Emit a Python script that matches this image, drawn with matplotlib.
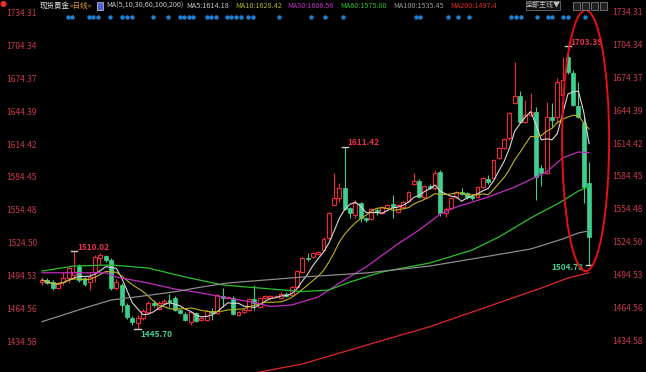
import numpy as np
import pandas as pd
import matplotlib
matplotlib.use('Agg')
import matplotlib.pyplot as plt
from matplotlib.patches import Ellipse, Rectangle

plt.rcParams['font.family'] = ['Liberation Sans Narrow', 'Noto Sans CJK SC', 'DejaVu Sans']

# daily OHLC (spot gold)
opens = [1488.9, 1490.7, 1488.9, 1483.4, 1488.9, 1492.5, 1495.3, 1503.4, 1492.5, 1488.9,
         1498.0, 1510.7, 1512.5, 1508.9, 1483.4, 1486.2, 1468.0, 1456.1, 1451.6, 1456.1,
         1461.6, 1469.8, 1464.3, 1469.8, 1472.5, 1474.3, 1463.4, 1459.8, 1452.5, 1460.7,
         1454.3, 1454.3, 1462.5, 1460.7, 1476.2, 1474.3, 1474.3, 1458.9, 1461.6, 1463.4,
         1473.4, 1466.1, 1474.3, 1474.3, 1476.2, 1474.3, 1478.0, 1477.1, 1484.3, 1498.0,
         1511.0, 1511.6, 1514.4, 1518.0, 1528.9, 1559.0, 1565.3, 1574.4, 1556.2, 1549.9,
         1560.8, 1547.1, 1546.2, 1554.4, 1551.7, 1556.2, 1559.9, 1552.6, 1557.2, 1562.6,
         1578.1, 1580.8, 1566.2, 1576.2, 1574.4, 1589.0, 1551.7, 1556.2, 1566.2, 1570.8,
         1569.9, 1567.1, 1566.2, 1575.3, 1582.6, 1583.5, 1601.7, 1610.8, 1619.9, 1651.8,
         1658.1, 1634.5, 1640.9, 1643.6, 1592.6, 1588.1, 1639.0, 1639.0, 1659.0, 1693.6,
         1679.1, 1649.0, 1633.6, 1579.0]
highs = [1493.4, 1492.5, 1490.7, 1488.9, 1498.0, 1502.5, 1517.0, 1505.3, 1493.4, 1498.0,
         1513.5, 1515.3, 1513.5, 1510.7, 1491.6, 1488.0, 1469.8, 1457.9, 1458.9, 1464.3,
         1471.6, 1472.5, 1471.6, 1473.4, 1478.0, 1476.2, 1464.3, 1461.6, 1462.5, 1461.6,
         1457.0, 1463.4, 1465.2, 1478.0, 1483.4, 1476.2, 1476.2, 1462.5, 1464.3, 1474.3,
         1486.2, 1475.2, 1477.1, 1477.1, 1477.1, 1479.8, 1479.8, 1485.3, 1499.8, 1511.6,
         1515.3, 1516.2, 1517.1, 1529.8, 1552.6, 1588.1, 1578.9, 1611.42, 1557.2, 1563.5,
         1561.7, 1548.0, 1556.2, 1556.2, 1558.1, 1559.9, 1568.1, 1559.9, 1562.6, 1571.7,
         1588.1, 1582.6, 1577.1, 1578.1, 1590.8, 1590.8, 1557.2, 1566.2, 1571.7, 1574.4,
         1570.8, 1568.1, 1576.2, 1584.4, 1586.2, 1600.8, 1611.7, 1619.9, 1643.6, 1689.1,
         1662.6, 1654.5, 1660.9, 1648.1, 1595.3, 1652.7, 1651.8, 1674.5, 1693.6, 1703.39,
         1681.8, 1670.9, 1639.0, 1598.1]
lows = [1486.2, 1487.1, 1481.6, 1482.5, 1486.2, 1487.9, 1492.5, 1488.9, 1485.3, 1481.6,
        1488.9, 1504.4, 1507.1, 1481.6, 1481.6, 1461.6, 1455.2, 1449.8, 1445.7, 1454.3,
        1460.7, 1466.1, 1463.4, 1468.0, 1466.1, 1462.5, 1459.8, 1453.4, 1449.8, 1452.5,
        1453.4, 1453.4, 1454.3, 1459.8, 1466.1, 1473.4, 1458.9, 1457.9, 1460.7, 1462.5,
        1463.4, 1465.2, 1473.4, 1472.5, 1475.2, 1473.4, 1475.2, 1476.2, 1483.4, 1497.1,
        1508.0, 1510.7, 1513.5, 1517.1, 1528.0, 1559.0, 1561.7, 1554.4, 1547.1, 1547.1,
        1543.5, 1543.5, 1545.3, 1549.9, 1550.8, 1555.3, 1547.1, 1551.7, 1556.2, 1561.7,
        1577.1, 1565.3, 1565.3, 1573.5, 1572.6, 1549.0, 1548.0, 1555.3, 1565.3, 1568.1,
        1564.4, 1563.5, 1565.3, 1574.4, 1578.1, 1582.6, 1600.8, 1609.9, 1618.1, 1650.9,
        1633.6, 1633.6, 1640.0, 1563.5, 1576.2, 1587.1, 1629.9, 1633.6, 1654.5, 1678.1,
        1649.0, 1638.1, 1560.8, 1504.78]
closes = [1490.7, 1488.0, 1483.4, 1487.1, 1492.5, 1501.6, 1498.0, 1490.7, 1487.1, 1493.4,
          1511.6, 1513.5, 1508.9, 1483.4, 1488.9, 1468.0, 1457.0, 1452.5, 1456.1, 1462.5,
          1469.8, 1468.0, 1469.8, 1471.6, 1470.7, 1463.4, 1460.7, 1454.3, 1461.6, 1453.4,
          1456.1, 1462.5, 1460.7, 1477.1, 1474.3, 1475.2, 1459.8, 1461.6, 1463.4, 1473.4,
          1469.8, 1474.3, 1476.2, 1476.2, 1476.2, 1478.0, 1476.2, 1484.3, 1498.9, 1510.7,
          1509.8, 1515.3, 1516.2, 1528.0, 1551.7, 1565.3, 1574.4, 1555.3, 1551.7, 1560.8,
          1547.1, 1545.3, 1555.3, 1552.6, 1557.2, 1559.0, 1557.2, 1559.0, 1561.7, 1570.8,
          1580.8, 1566.2, 1576.2, 1574.4, 1588.1, 1551.7, 1555.3, 1565.3, 1570.8, 1569.0,
          1566.2, 1565.3, 1575.3, 1583.5, 1579.9, 1599.9, 1610.8, 1619.0, 1642.7, 1658.1,
          1634.5, 1640.9, 1643.6, 1584.4, 1588.1, 1639.0, 1636.3, 1670.9, 1672.7, 1680.0,
          1650.0, 1639.0, 1575.3, 1529.8]

# long moving averages, read at sample bars
ma30_idx = [0, 12, 14, 20, 25, 30, 35, 40, 43, 47, 52, 56, 61, 67, 71, 75, 78, 84, 89, 95, 98, 101, 103]
ma30_val = [1497.3, 1497.3, 1493.4, 1488.0, 1482.5, 1478.9, 1474.3, 1470.2, 1466.6, 1468.0, 1475.2,
            1488.0, 1502.5, 1523.5, 1536.2, 1550.8, 1557.1, 1566.2, 1575.3, 1589.0, 1601.7, 1607.2, 1606.56]
ma60_idx = [0, 6, 13, 20, 27, 34, 41, 49, 54, 58, 64, 73, 81, 86, 92, 98, 101, 103]
ma60_val = [1498.9, 1503.4, 1504.4, 1501.6, 1493.4, 1486.2, 1483.4, 1480.2, 1481.6, 1488.9,
            1498.0, 1506.2, 1518.0, 1529.8, 1547.1, 1562.6, 1571.7, 1575.8]
ma100_idx = [0, 8, 13, 18, 25, 30, 35, 49, 61, 73, 82, 92, 98, 101, 103]
ma100_val = [1452.8, 1465.2, 1472.5, 1475.5, 1480.0, 1484.3, 1488.0, 1493.4, 1497.1, 1503.4,
             1510.7, 1518.9, 1528.0, 1533.5, 1535.45]
ma200_idx = [40, 49, 65, 73, 94, 99, 103]
ma200_val = [1406.1, 1414.3, 1437.0, 1448.2, 1483.4, 1492.5, 1497.4]

# event markers along the top
dot_pos = [4.9, 5.7, 8.9, 9.6, 10.6, 12.8, 15.1, 16.0, 17.0, 20.9, 23.7, 26.0, 26.7, 27.7, 28.4,
           31.1, 31.8, 32.8, 34.8, 35.6, 36.5, 37.5, 38.8, 39.7, 44.6, 50.7, 53.3, 56.7, 70.4,
           71.2, 76.5, 78.3, 80.4, 88.3, 89.3, 90.2, 93.2, 95.3, 96.1, 98.1, 99.1, 102.3]

yticks = [1434.58, 1464.56, 1494.53, 1524.50, 1554.48, 1584.45, 1614.42, 1644.39, 1674.37, 1704.34, 1734.31]

# (bar, price, text, colour, dx, dy, ha)
marks = [(6, 1517.0, '1510.02', '#e8324a', 3, 4, 'left'),
         (57, 1611.42, '1611.42', '#e8324a', 3, 5, 'left'),
         (99, 1703.39, '1703.39', '#e8324a', 3, 4, 'left'),
         (18, 1445.7, '1445.70', '#3fd08e', 3, -5, 'left'),
         (103, 1504.78, '1504.78', '#3fd08e', -6, -3, 'right')]

W, H = 646, 372
RED = '#f0283c'
GREEN = '#3fcf8e'
LBL = '#c83a48'

fig = plt.figure(figsize=(W / 100, H / 100), dpi=100, facecolor='black')
ax = fig.add_axes([40 / W, 0, 565 / W, 1], facecolor='black')
ax.set_xlim(-0.38, 106.0)
ax.set_ylim(1407.0, 1745.5)

# candles
bw = 0.74
for i, (o, h, l, c) in enumerate(zip(opens, highs, lows, closes)):
    if c >= o:
        ax.vlines(i, l, o, color=RED, lw=0.8)
        ax.vlines(i, c, h, color=RED, lw=0.8)
        ax.add_patch(Rectangle((i - bw / 2, o), bw, max(c - o, 0.3), facecolor='black',
                               edgecolor=RED, lw=0.8, zorder=3))
    else:
        ax.vlines(i, l, h, color=GREEN, lw=0.8)
        ax.add_patch(Rectangle((i - bw / 2, c), bw, o - c, facecolor=GREEN,
                               edgecolor=GREEN, lw=0.5, zorder=3))

# moving averages
c = pd.Series(closes)
x = np.arange(len(closes))
ax.plot(x, c.rolling(5, min_periods=1).mean(), color='#d8d8d8', lw=0.8, zorder=4)
ax.plot(x, c.rolling(10, min_periods=1).mean(), color='#c0b41c', lw=0.8, zorder=4)
ax.plot(ma30_idx, ma30_val, color='#c02cc0', lw=0.9, zorder=4)
ax.plot(ma60_idx, ma60_val, color='#2cc02c', lw=0.9, zorder=4)
ax.plot(ma100_idx, ma100_val, color='#8c8c8c', lw=0.9, zorder=4)
ax.plot(ma200_idx, ma200_val, color='#e02828', lw=0.9, zorder=4)

# high / low labels
for i, v, s, col, dx, dy, ha in marks:
    ax.plot([i - 0.6, i + 0.6], [v, v], color='#d0d0d0', lw=1, zorder=5)
    ax.annotate(s, xy=(i, v), xytext=(dx, dy), textcoords='offset pixels', ha=ha, va='center',
                color=col, fontsize=6, fontweight='bold', zorder=6)

# event dots
ax.plot(dot_pos, [1730.0] * len(dot_pos), 'o', color='#1f7fd0', ms=3.2, mec='none', zorder=5)

# red ellipse round the last bars
ax.add_patch(Ellipse((102.35, 1617.6), 8.85, 237.5, fill=False, edgecolor='#e81010',
                     lw=1.4, clip_on=False, zorder=7))

# axes styling
for sp in ax.spines.values():
    sp.set_visible(False)
ax.set_xticks([])
ax.set_yticks(yticks)
ax.set_yticklabels(['%.2f' % v for v in yticks])
ax.tick_params(axis='y', length=0, pad=2.2, labelsize=6, labelcolor=LBL)
for v in yticks:
    ax.text(1 + 7 / 565, v, '%.2f' % v, transform=ax.get_yaxis_transform(), ha='left',
            va='center', fontsize=6, color=LBL)

# header line
ty = 1 - 6 / H
fig.text(40 / W, ty, '现货黄金', color='#e6e6e6', fontsize=5.4, va='center')
fig.text(70 / W, ty, '«日线»', color='#e8a030', fontsize=5.4, va='center')
fig.patches.append(Rectangle((97 / W, 1 - 10 / H), 6 / W, 8 / H, transform=fig.transFigure,
                             facecolor='#5060d0', edgecolor='#d0d0d0', lw=0.5))
header = [(106, 'MA(5,10,30,60,100,200)', '#c8c8c8'),
          (186, 'MA5:1614.18', '#c8c8c8'),
          (235, 'MA10:1628.42', '#b4b41e'),
          (287, 'MA30:1606.56', '#c02cc0'),
          (340, 'MA60:1575.80', '#2cc02c'),
          (393, 'MA100:1535.45', '#9a9a9a'),
          (450, 'MA200:1497.4', '#e02828')]
for px, s, col in header:
    fig.text(px / W, ty, s, color=col, fontsize=5.2, va='center')

# button and small icons at top right
fig.patches.append(Rectangle((526 / W, 1 - 10 / H), 34 / W, 9 / H, transform=fig.transFigure,
                             facecolor='#101010', edgecolor='#707070', lw=0.6))
fig.text(543 / W, 1 - 5.5 / H, '全部主线▼', color='#c0c0c0', fontsize=5, ha='center', va='center')
for px in [573, 582, 591, 600]:
    fig.patches.append(Rectangle((px / W, 1 - 10 / H), 7 / W, 8 / H, transform=fig.transFigure,
                                 facecolor='#202020', edgecolor='#909090', lw=0.5))
fig.text(3 / W, 1 - 5 / H, '●', color='#e03030', fontsize=5, ha='center', va='center')

fig.savefig('out.png', dpi=100, facecolor='black')
